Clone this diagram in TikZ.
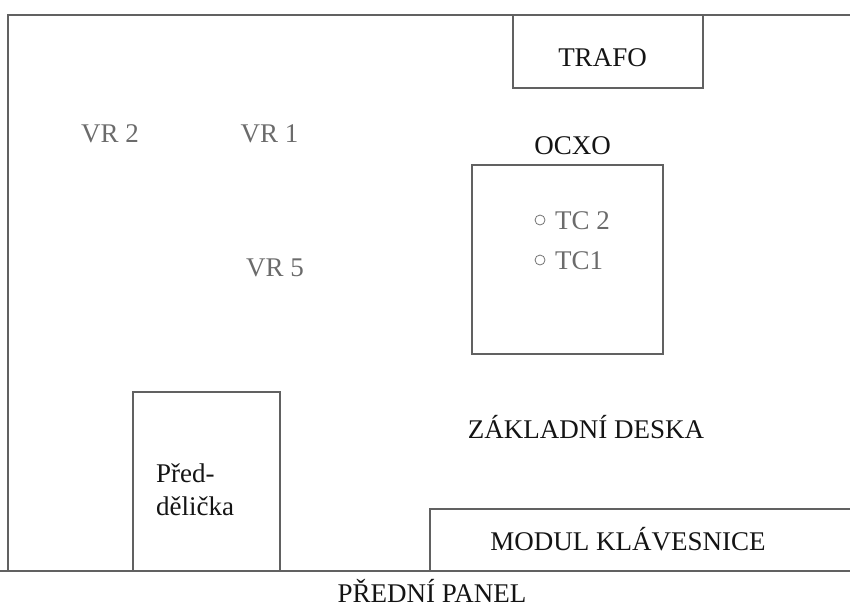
\documentclass[tikz,border=0pt]{standalone}
\usepackage{fontspec}
\setmainfont{Liberation Serif}
\begin{document}
\begin{tikzpicture}[x=1pt,y=-1pt,
  frame/.style={draw=black!62,line width=1.3pt},
  box/.style={frame,rectangle,inner sep=0pt},
  lbl/.style={font=\fontsize{27}{31}\selectfont,text=black!92,inner sep=0pt,anchor=base},
  glbl/.style={lbl,text=black!58},
  pin/.style={draw=black!55,line width=0.8pt,circle,minimum size=10pt,inner sep=0pt}]
\useasboundingbox (0,0) rectangle (850,608);
% outer board outline
\draw[frame] (850,15) -- (8,15) -- (8,571);
\draw[frame] (0,571) -- (850,571);
% TRAFO
\node[box,minimum width=190pt,minimum height=73pt] (trafo) at (608,51.5) {};
\node[lbl] (trafot) at (602.5,66) {TRAFO};
% OCXO
\node[lbl] (ocxot) at (572.5,154) {OCXO};
\node[box,minimum width=191pt,minimum height=189pt] (ocxo) at (567.5,259.5) {};
\node[pin] (c2) at (540,220) {};
\node[pin] (c1) at (540,260) {};
\node[glbl,anchor=base west] (tc2) at (555,229) {TC 2};
\node[glbl,anchor=base west] (tc1) at (555,269) {TC1};
% trimmers
\node[glbl] (vr2) at (110,142) {VR 2};
\node[glbl] (vr1) at (269.5,142) {VR 1};
\node[glbl] (vr5) at (275,276) {VR 5};
% main board label
\node[lbl] (zd) at (586,438) {ZÁKLADNÍ DESKA};
% predelicka
\node[box,minimum width=147pt,minimum height=179pt] (pd) at (206.5,481.5) {};
\node[lbl,anchor=base west] (pd1) at (156,482) {Před-};
\node[lbl,anchor=base west] (pd2) at (156,515) {dělička};
% keyboard module
\draw[frame] (850,509) -- (430,509) -- (430,571);
\node[lbl] (mk) at (628,550) {MODUL KLÁVESNICE};
% front panel
\node[lbl] (fp) at (432,602) {PŘEDNÍ PANEL};
\end{tikzpicture}
\end{document}
